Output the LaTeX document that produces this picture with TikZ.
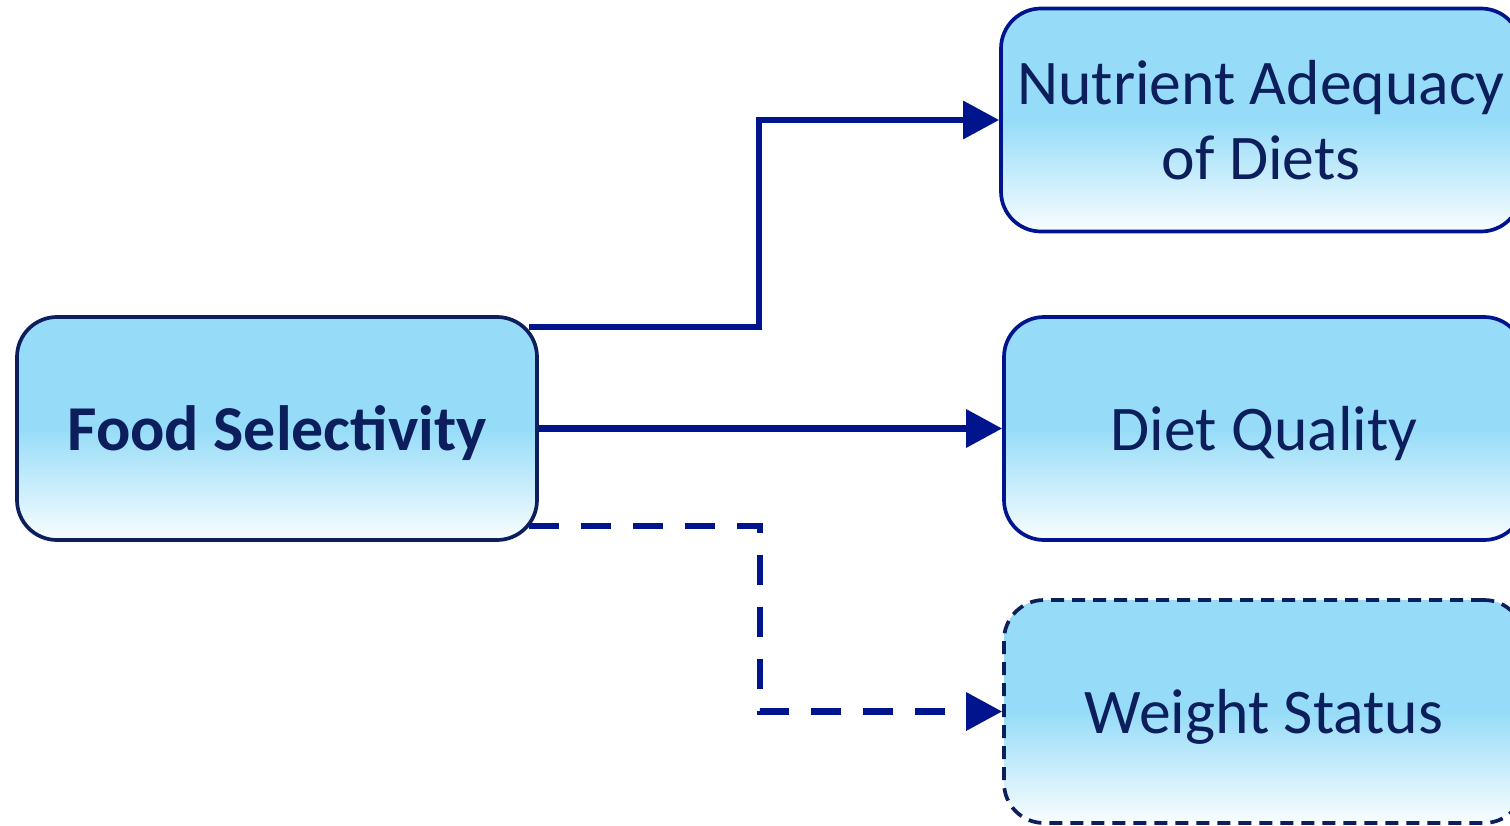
\documentclass[tikz,border=0pt]{standalone}
\usepackage{fontspec}
\setmainfont{Carlito}
\usepackage{tikz}
\usetikzlibrary{arrows.meta, calc, positioning}
\definecolor{boxsky}{RGB}{150,220,248}
\definecolor{navytext}{RGB}{12,30,92}
\definecolor{linkblue}{RGB}{0,20,142}
\pgfdeclareverticalshading{skyfade}{100bp}{color(0bp)=(white); color(25bp)=(white!94!boxsky); color(50bp)=(boxsky); color(100bp)=(boxsky)}
\tikzset{
	semithick,
	factor/.style ={rectangle, rounded corners=0.4cm, shading=skyfade, draw=navytext, line width=0.037cm, inner sep=0pt, minimum width=5.2cm, minimum height=2.23cm, align=center, text=navytext, font=\fontsize{18.1pt}{21.3pt}\selectfont},
	oneline/.style ={text depth=0pt},
	outcome/.style ={factor, draw=linkblue},
	unsure/.style ={factor, dash pattern=on 0.13cm off 0.08cm},
	link/.style = {-{Triangle[length=0.36cm, width=0.37cm]}, draw=linkblue, line width=0.065cm},
	maybe/.style = {link, dash pattern=on 0.3cm off 0.22cm}
}

\begin{document}
\begin{tikzpicture}
	\clip (0, 0) rectangle (15.1, 8.25);
	\node[factor, oneline, font=\fontsize{18.2pt}{21.3pt}\selectfont\bfseries] (food) at (2.77, 3.965) {Food Selectivity};
	\node[outcome] (nutri) at (12.61, 7.05) {Nutrient Adequacy\\of Diets};
	\node[outcome, oneline] (diet) at (12.64, 3.965) {Diet Quality};
	\node[unsure, oneline] (weight) at (12.64, 1.135) {Weight Status};
	
	% elbow points
	\coordinate (up) at ([shift={(-0.1, -0.12)}]food.north east);
	\coordinate (down) at ([shift={(-0.1, 0.16)}]food.south east);
	
	% Directed edges
	\draw[link] (up) -| (7.59, 7.05) -- (nutri.west);
	\draw[link] (food.east) -- (diet.west);
	\draw[maybe] (down) -| (7.6, 1.135) -- (weight.west);
\end{tikzpicture}
\end{document}
